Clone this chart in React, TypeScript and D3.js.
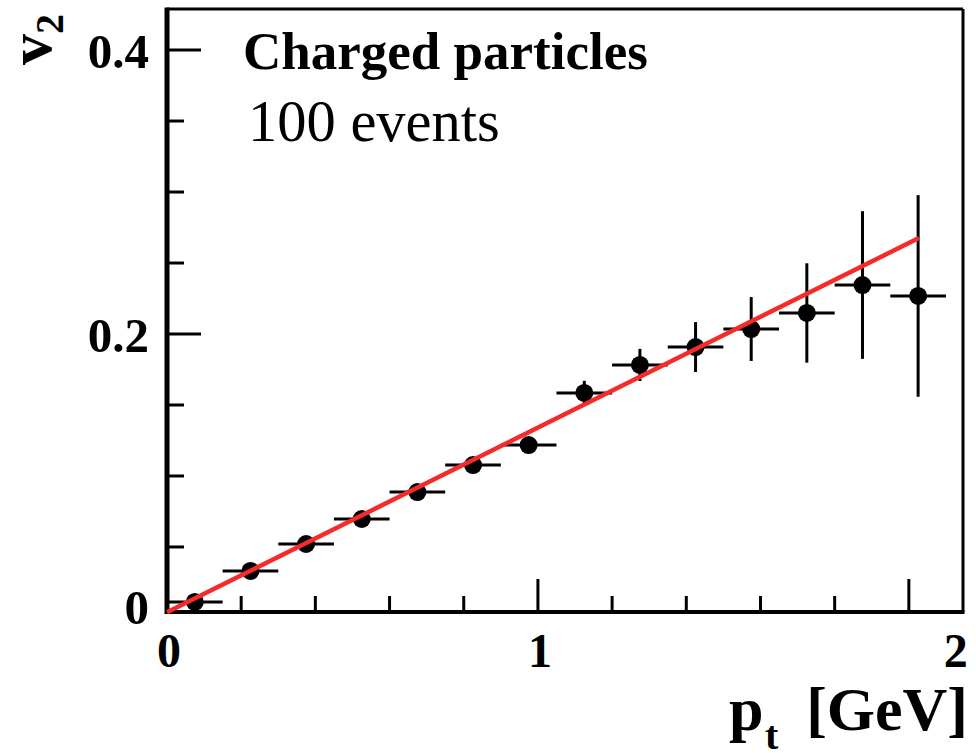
import React from "react";
import * as d3 from "d3";

// ---- data ----
const ptCenters = [0.075, 0.225, 0.375, 0.525, 0.675, 0.825, 0.975, 1.125, 1.275, 1.425, 1.575, 1.725, 1.875, 2.025];
const v2Values = [0.0113, 0.0331, 0.0521, 0.0697, 0.0887, 0.1077, 0.1218, 0.1585, 0.1782, 0.1908, 0.2035, 0.2148, 0.2345, 0.2268];
const v2Errors = [0.002, 0.002, 0.002, 0.002, 0.002, 0.003, 0.004, 0.0085, 0.0113, 0.0176, 0.0225, 0.035, 0.052, 0.071];
const ptHalfWidths = [0.075, 0.075, 0.075, 0.075, 0.075, 0.075, 0.075, 0.075, 0.075, 0.075, 0.075, 0.075, 0.075, 0.075];
const fitPt = [0, 2.027];
const fitV2 = [0.004, 0.2676];
const xMajorTicks = [0, 1, 2];
const xTickLabels = ["0", "1", "2"];
const yMajorTicks = [0, 0.2, 0.4];
const yTickLabels = ["0", "0.2", "0.4"];
const xDomain = [0, 2.146];
const yDomain = [0.0042, 0.4289];

const FONT = "'Liberation Serif', 'Times New Roman', serif";

export default function App() {
  const W = 976, H = 753;
  const left = 167, right = 963, top = 9, bottom = 612;
  const x = d3.scaleLinear().domain(xDomain).range([left, right]);
  const y = d3.scaleLinear().domain(yDomain).range([bottom, top]);

  const xMinor = d3.range(0, xDomain[1] + 1e-9, 0.2).filter(t => !xMajorTicks.some(m => Math.abs(m - t) < 1e-6));
  const yMinor = d3.range(0, yDomain[1] + 1e-9, 0.05)
    .filter(t => t >= yDomain[0] && !yMajorTicks.some(m => Math.abs(m - t) < 1e-6));
  const yMajorIn = yMajorTicks.filter(t => t >= yDomain[0] && t <= yDomain[1]);

  const line = d3.line<number>().x((_, i) => x(fitPt[i])).y(v => y(v));

  return (
    <svg width={W} height={H} style={{ position: "absolute", left: 0, top: 0, background: "#fff" }}>
      <rect x={0} y={0} width={W} height={H} fill="#fff" />
      {/* frame */}
      <line x1={left} x2={right} y1={top} y2={top} stroke="#000" strokeWidth={3} />
      <line x1={right} x2={right} y1={top} y2={bottom} stroke="#000" strokeWidth={3} />
      <line x1={left} x2={left} y1={top - 1.5} y2={bottom + 2} stroke="#000" strokeWidth={5} />
      <line x1={left} x2={right + 1.5} y1={bottom} y2={bottom} stroke="#000" strokeWidth={4} />

      {/* x ticks */}
      {xMajorTicks.filter(t => t <= xDomain[1]).map(t => (
        <line key={"xm" + t} x1={x(t)} x2={x(t)} y1={bottom} y2={bottom - 33} stroke="#000" strokeWidth={3} />
      ))}
      {xMinor.map(t => (
        <line key={"xn" + t} x1={x(t)} x2={x(t)} y1={bottom} y2={bottom - 16} stroke="#000" strokeWidth={3} />
      ))}
      {/* y ticks */}
      {yMajorIn.map(t => (
        <line key={"ym" + t} x1={left} x2={left + 34} y1={y(t)} y2={y(t)} stroke="#000" strokeWidth={3} />
      ))}
      {yMinor.map(t => (
        <line key={"yn" + t} x1={left} x2={left + 17} y1={y(t)} y2={y(t)} stroke="#000" strokeWidth={3} />
      ))}

      {/* x tick labels */}
      {xMajorTicks.map((t, i) => {
        const last = i === xMajorTicks.length - 1;
        return (
          <text key={"xl" + t} x={last ? x(t) + 47 : x(t) + 2} y={667} textAnchor="middle"
            fontFamily={FONT} fontWeight="bold" fontSize={48} fill="#000">{xTickLabels[i]}</text>
        );
      })}
      {/* y tick labels */}
      {yMajorTicks.map((t, i) => (
        <text key={"yl" + t} x={149} y={Math.min(y(t), bottom - 6) + 18} textAnchor="end"
          fontFamily={FONT} fontWeight="bold" fontSize={49} fill="#000">{yTickLabels[i]}</text>
      ))}

      {/* axis titles */}
      <text transform="translate(51,65) rotate(-90)" fontFamily={FONT} fontWeight="bold" fontSize={62} fill="#000">
        v<tspan dy={12} fontSize={40}>2</tspan>
      </text>
      <text x={729} y={730} fontFamily={FONT} fontWeight="bold" fontSize={62} fill="#000">p</text>
      <text x={765} y={749} fontFamily={FONT} fontWeight="bold" fontSize={40} fill="#000">t</text>
      <text x={968} y={730} textAnchor="end" fontFamily={FONT} fontWeight="bold" fontSize={62} fill="#000">[GeV]</text>

      {/* annotations */}
      <text x={243} y={69} fontFamily={FONT} fontWeight="bold" fontSize={53} fill="#000">Charged particles</text>
      <text x={248} y={141} fontFamily={FONT} fontSize={58.5} fill="#000">100 events</text>

      {/* data: error bars + markers */}
      {ptCenters.map((pt, i) => {
        const cx = x(pt), cy = y(v2Values[i]);
        return (
          <g key={"p" + i}>
            <line x1={x(pt - ptHalfWidths[i])} x2={x(pt + ptHalfWidths[i])} y1={cy} y2={cy} stroke="#000" strokeWidth={3} />
            <line x1={cx} x2={cx} y1={y(v2Values[i] - v2Errors[i])} y2={y(v2Values[i] + v2Errors[i])} stroke="#000" strokeWidth={3} />
            <circle cx={cx} cy={cy} r={9} fill="#000" />
          </g>
        );
      })}

      {/* fit line */}
      <path d={line(fitV2) || ""} fill="none" stroke="#f52a2a" strokeWidth={4.5} />
    </svg>
  );
}
